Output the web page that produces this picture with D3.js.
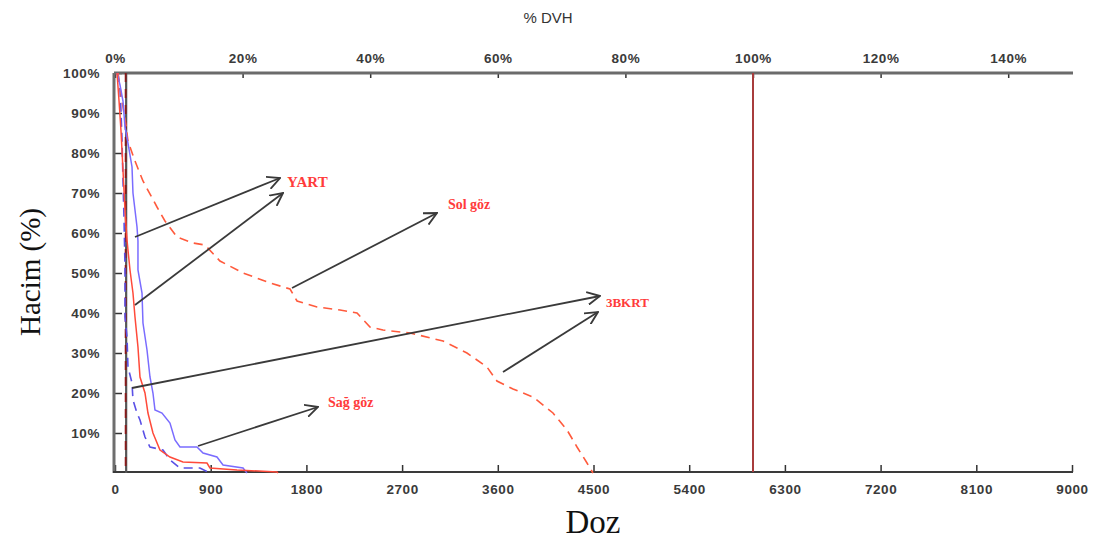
<!DOCTYPE html>
<html><head><meta charset="utf-8">
<script src="https://cdn.jsdelivr.net/npm/d3@7"></script>
<style>
body{margin:0;background:#fff;}
svg{display:block;}
</style></head>
<body>
<svg id="chart" width="1103" height="547"></svg>
<script>
// ---- data (dose in cGy, volume in %) ----
const doseTicks = [0, 900, 1800, 2700, 3600, 4500, 5400, 6300, 7200, 8100, 9000];
const pctTicks = [0, 20, 40, 60, 80, 100, 120, 140];
const volTicks = [10, 20, 30, 40, 50, 60, 70, 80, 90, 100];
const prescriptionDose = 6000;

// YART – Sağ göz (solid blue)
const yartSag = [[19,100],[47,97],[75,93],[94,86.5],[122,82.5],[160,76.5],[169,70],[207,61.5],[216,58],[216,50.75],[254,45],[263,37.5],[301,30.75],[329,24],[357,20],[376,15.75],[442,15],[517,12.5],[564,8.25],[611,6.5],[771,6.5],[828,5],[959,4],[1016,2],[1204,1.25],[1241,0]];
// YART – Sol göz (solid red)
const yartSol = [[19,100],[38,93],[56,85.75],[75,75.75],[94,65.75],[113,58.25],[122,55.75],[141,50.75],[169,45],[188,39],[216,31.5],[235,24],[282,20],[310,15],[357,10],[423,5.75],[517,4],[639,2.75],[865,2.5],[893,1.25],[1147,0.75],[1523,0.25],[1533,0]];
// 3BKRT – Sağ göz (dashed blue)
const bkrtSag = [[28,100],[47,95.75],[56,90.75],[66,83.25],[75,73.25],[85,63.25],[94,51.5],[94,39],[113,34],[122,26.5],[160,22.5],[169,18.25],[207,15],[235,13.25],[282,9],[329,6.5],[451,5.75],[517,3.25],[611,1.25],[799,1.25],[893,0]];
// 3BKRT – Sol göz (dashed red)
const bkrtSol = [[28,100],[66,93],[103,87],[122,83],[188,78],[263,73],[395,66.5],[470,63],[583,59],[734,57.5],[846,57],[987,53],[1204,50],[1458,47.5],[1646,46],[1712,43],[1900,41.5],[2116,40.75],[2276,40],[2398,36.5],[2520,35.75],[2774,35],[3085,33],[3310,30],[3498,26.5],[3592,23],[3743,21],[3931,19],[4119,15],[4251,10.75],[4345,6.5],[4439,2.5],[4495,0]];
// other structure near origin
const otherSolid = [[105,100],[105,0]];
const otherDashed = [[100,100],[100,0]];

// annotations: [fromDose, fromVol, toDose, toVol]
const arrows = [
  [188,59,1552,73.75],
  [188,42,1580,70],
  [1665,46.25,3028,65],
  [160,21.25,4561,44.25],
  [3649,25.25,4542,40.25],
  [781,6.75,1909,16.5]
];
const labels = [
  {text:"YART", dose:1618, vol:72.75, size:15},
  {text:"Sol göz", dose:3131, vol:67.25, size:14},
  {text:"3BKRT", dose:4617, vol:42.75, size:13},
  {text:"Sağ göz", dose:2003, vol:17.75, size:14}
];

// ---- drawing ----
const svg = d3.select("#chart");
const x = d3.scaleLinear().domain([0, 9000]).range([115, 1072]);
const xTop = d3.scaleLinear().domain([0, 150]).range([115, 1072]);
const y = d3.scaleLinear().domain([0, 100]).range([473, 73]);

const axisFont = "Arial, 'Liberation Sans', sans-serif";
const serif = "'Times New Roman', 'Liberation Serif', serif";

function styleAxis(g) {
  g.select(".domain").remove();
  g.selectAll("line").attr("stroke", "#333").attr("stroke-width", 1.5);
  g.selectAll("text").attr("font-family", axisFont).attr("font-weight", "bold")
    .attr("font-size", 13.5).attr("letter-spacing", "0.6px").attr("fill", "#3a3a3a");
}

// bottom axis
svg.append("g").attr("transform", "translate(0,472)")
  .call(d3.axisBottom(x).tickValues(doseTicks).tickFormat(d3.format("d")).tickSizeInner(-7).tickSizeOuter(0).tickPadding(12))
  .call(styleAxis);

// top axis
svg.append("g").attr("transform", "translate(0,73)")
  .call(d3.axisTop(xTop).tickValues(pctTicks).tickFormat(d => d + "%").tickSizeInner(-5).tickSizeOuter(0).tickPadding(10))
  .call(styleAxis);

// left axis
svg.append("g").attr("transform", "translate(114,0)")
  .call(d3.axisLeft(y).tickValues(volTicks).tickFormat(d => d + "%").tickSizeInner(-8).tickSizeOuter(0).tickPadding(14))
  .call(styleAxis);

// frame lines
svg.append("line").attr("x1", x(0) - 1).attr("x2", x(9000) + 1).attr("y1", y(100)).attr("y2", y(100))
  .attr("stroke", "#6b6b6b").attr("stroke-width", 3);
svg.append("line").attr("x1", x(0) - 1).attr("x2", x(0) - 1).attr("y1", y(100)).attr("y2", y(0))
  .attr("stroke", "#6e6e6e").attr("stroke-width", 3);
svg.append("line").attr("x1", x(0) - 2).attr("x2", x(9000) + 1).attr("y1", y(0) - 1).attr("y2", y(0) - 1)
  .attr("stroke", "#3a3a3a").attr("stroke-width", 2);

// prescription line
svg.append("line").attr("x1", x(prescriptionDose)).attr("x2", x(prescriptionDose))
  .attr("y1", y(100)).attr("y2", y(0) - 1)
  .attr("stroke", "#a83c3c").attr("stroke-width", 2);

const line = d3.line().x(d => x(d[0])).y(d => y(d[1]));

const series = [
  {data: otherSolid, color: "#555", width: 2.2, dash: null},
  {data: otherDashed, color: "#8b1a1a", width: 1.8, dash: "9,7"},
  {data: bkrtSag, color: "#5a50e6", width: 1.6, dash: "9,6"},
  {data: bkrtSol, color: "#ff5a3c", width: 1.6, dash: "9,6"},
  {data: yartSag, color: "#7a6cff", width: 1.5, dash: null},
  {data: yartSol, color: "#ff4a3a", width: 1.5, dash: null}
];
svg.append("g").selectAll("path").data(series).join("path")
  .attr("d", s => line(s.data))
  .attr("fill", "none")
  .attr("stroke", s => s.color)
  .attr("stroke-width", s => s.width)
  .attr("stroke-dasharray", s => s.dash);

// arrows
const defs = svg.append("defs");
defs.append("marker").attr("id", "arr").attr("viewBox", "0 -6 12 12")
  .attr("refX", 11).attr("refY", 0).attr("markerWidth", 14).attr("markerHeight", 14)
  .attr("markerUnits", "userSpaceOnUse").attr("orient", "auto")
  .append("path").attr("d", "M0,-5.5L11,0L0,5.5").attr("fill", "none")
  .attr("stroke", "#3a3a3a").attr("stroke-width", 1.6);

svg.append("g").selectAll("line").data(arrows).join("line")
  .attr("x1", d => x(d[0])).attr("y1", d => y(d[1]))
  .attr("x2", d => x(d[2])).attr("y2", d => y(d[3]))
  .attr("stroke", "#3a3a3a").attr("stroke-width", 1.8)
  .attr("marker-end", "url(#arr)");

svg.append("g").selectAll("text").data(labels).join("text")
  .attr("x", d => x(d.dose)).attr("y", d => y(d.vol))
  .attr("dominant-baseline", "central")
  .attr("font-family", serif).attr("font-weight", "bold")
  .attr("font-size", d => d.size).attr("fill", "#ff3b3b")
  .text(d => d.text);

// titles
svg.append("text").attr("x", 548).attr("y", 17).attr("text-anchor", "middle")
  .attr("dominant-baseline", "central")
  .attr("font-family", axisFont).attr("font-size", 15).attr("fill", "#333").text("% DVH");
svg.append("text").attr("x", 593).attr("y", 522).attr("text-anchor", "middle")
  .attr("dominant-baseline", "central")
  .attr("font-family", serif).attr("font-size", 33).attr("fill", "#111").text("Doz");
svg.append("text").attr("transform", "translate(30,272) rotate(-90)").attr("text-anchor", "middle")
  .attr("dominant-baseline", "central")
  .attr("font-family", serif).attr("font-size", 29).attr("fill", "#111").text("Hacim (%)");
</script>
</body></html>
